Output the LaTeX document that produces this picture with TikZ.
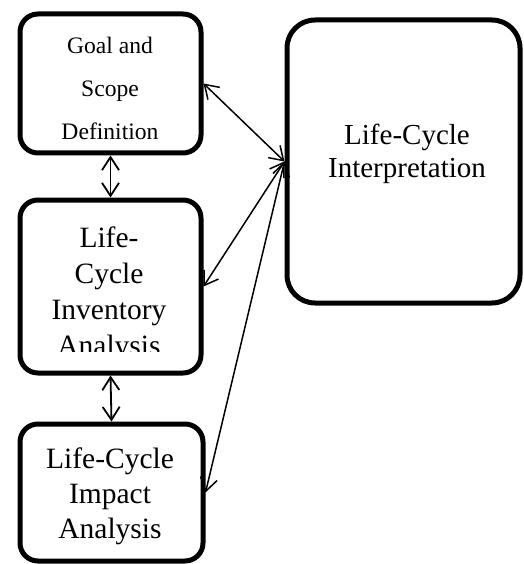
\documentclass[tikz,border=0pt]{standalone}
\usepackage{fontspec}
\setmainfont{Liberation Serif}
\usepackage{tikz}
\usetikzlibrary{arrows.meta,positioning,calc}

\begin{document}
\begin{tikzpicture}[
  x=1pt, y=-1pt,
  >={Straight Barb[length=13pt,width=17pt]},
  every node/.style={align=center},
  phase/.style={draw=black,line width=5pt,rounded corners=18pt,
                inner sep=0pt,fill=white},
  bigtext/.style={font=\fontsize{29.5pt}{36pt}\selectfont},
  link/.style={<->,line width=1.5pt,black},
  stack/.style={<->,line width=1.8pt,black}
]
\useasboundingbox (0,0) rectangle (523,564);

% Boxes
\node[phase,minimum width=181pt,minimum height=139pt] (goal) at (110.5,83.5) {};
\node[phase,minimum width=181pt,minimum height=173pt] (inventory) at (110.5,286.5) {};
\node[phase,minimum width=183pt,minimum height=137pt] (impact) at (111.5,492.5) {};
\node[phase,minimum width=233pt,minimum height=283pt,rounded corners=28pt]
  (interp) at (403.5,161.5) {};

% Texts
\node[font=\fontsize{23.6pt}{43pt}\selectfont] (goaltxt) at (110,88)
  {Goal and\\Scope\\Definition};
\begin{scope}
  \clip (20,200) rectangle (201,351);
  \node[bigtext] (invtxt) at (109,294) {Life-\\Cycle\\Inventory\\Analysis};
\end{scope}
\node[bigtext,font=\fontsize{29.5pt}{35pt}\selectfont] (imptxt) at (110,496)
  {Life-Cycle\\Impact\\Analysis};
\node[font=\fontsize{29pt}{33pt}\selectfont] (inttxt) at (407,154)
  {Life-Cycle\\Interpretation};

% Links
\draw[stack] (goal.south) -- (inventory.north);
\draw[stack] (inventory.south) -- (impact.north);
\draw[link] (goal.east) -- (interp.west);
\draw[link] (inventory.east) -- (interp.west);
\draw[link] (impact.east) -- (interp.west);
\end{tikzpicture}
\end{document}
